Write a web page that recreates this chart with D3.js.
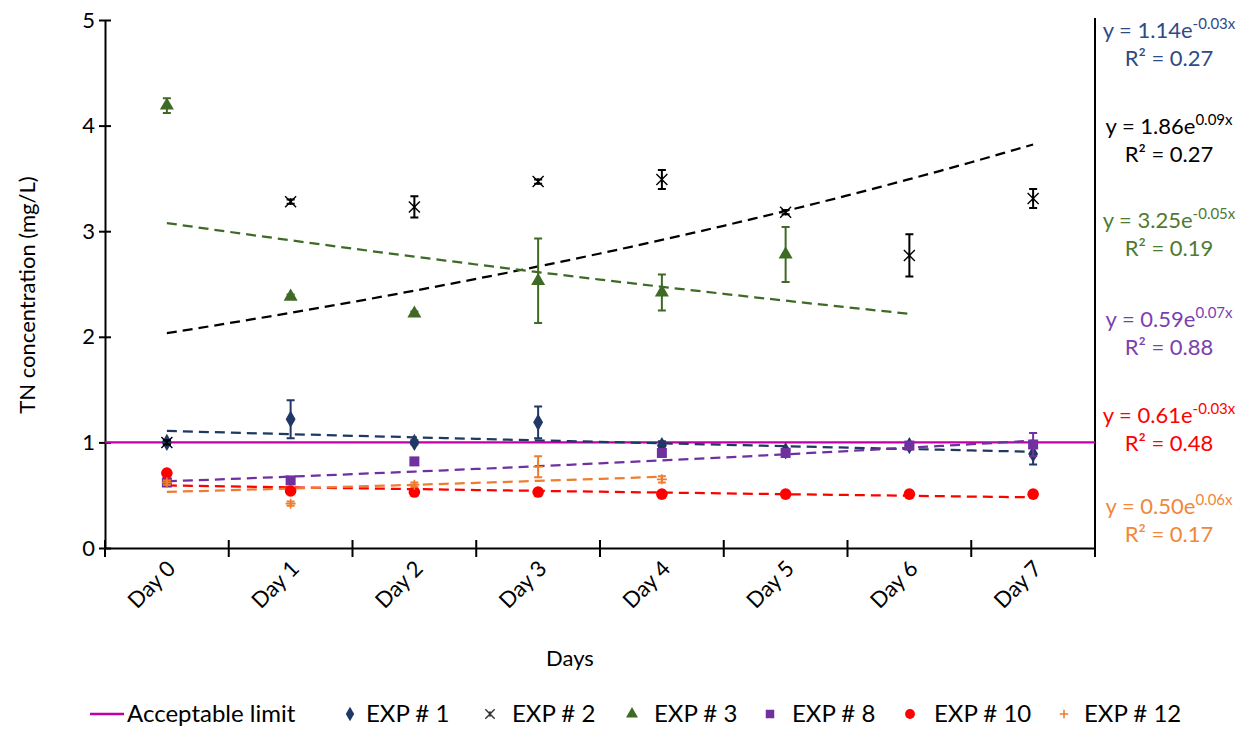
<!DOCTYPE html>
<html><head><meta charset="utf-8">
<script src="https://cdn.jsdelivr.net/npm/d3@7"></script>
<style>
body{margin:0;background:#fff}
svg{font-family:Lato,"Open Sans",sans-serif}
</style>
</head><body>
<svg id="chart" width="1246" height="730"></svg>
<script>
// ---------- data ----------
const days = ["Day 0","Day 1","Day 2","Day 3","Day 4","Day 5","Day 6","Day 7"];
const yTicks = [0,1,2,3,4,5];
const limitValue = 1;
const seriesNames = ["EXP # 1","EXP # 2","EXP # 3","EXP # 8","EXP # 10","EXP # 12"];
const exp1  = [1.00,1.22,1.00,1.19,0.97,0.92,0.97,0.89];
const exp1E = [0.02,0.18,0.02,0.15,0.04,0.02,0.02,0.10];
const exp2  = [1.00,3.28,3.23,3.47,3.49,3.18,2.77,3.31];
const exp2E = [0.02,0.02,0.10,0.02,0.09,0.02,0.20,0.09];
const exp3  = [4.19,2.38,2.22,2.53,2.42,2.78,null,null];
const exp3E = [0.07,0.02,0.02,0.40,0.17,0.26,null,null];
const exp8  = [0.62,0.64,0.82,null,0.90,0.90,0.97,0.98];
const exp8E = [0.02,0.03,0.02,null,0.03,0.02,0.02,0.11];
const exp10 = [0.71,0.54,0.53,0.53,0.51,0.51,0.51,0.51];
const exp10E= [0.02,0.02,0.02,0.02,0.02,0.02,0.02,0.02];
const exp12 = [0.62,0.42,0.60,0.77,0.65,null,null,null];
const exp12E= [0.02,0.02,0.02,0.10,0.03,null,null,null];
// exponential trendlines y = a*e^(b*x), x = 1..n (Excel index)
const trendA = [1.14,1.86,3.25,0.59,0.61,0.50];
const trendB = [-0.028,0.09,-0.0546,0.068,-0.03,0.06];
const trendLastDay = [7,7,6,7,7,4];
// equation labels
const eqCoef = ["1.14","1.86","3.25","0.59","0.61","0.50"];
const eqExp  = ["-0.03x","0.09x","-0.05x","0.07x","-0.03x","0.06x"];
const eqR2   = ["0.27","0.27","0.19","0.88","0.48","0.17"];

// ---------- setup ----------
const values = [exp1,exp2,exp3,exp8,exp10,exp12];
const errors = [exp1E,exp2E,exp3E,exp8E,exp10E,exp12E];
const colors = ["#1F3864","#000000","#3F6A25","#7030A0","#FF0000","#ED7D31"];
const eqColors = ["#2F4A86","#000000","#4E7A32","#7B3FB0","#FF0000","#F0873A"];
const limitColor = "#C000A6";
const markers = ["diamond","star","triangle","square","circle","plus"];

const svg = d3.select("#chart");
const L = 105, R = 1095, T = 20, B = 548;
const x = d3.scaleBand().domain(days).range([L,R]).paddingInner(0).paddingOuter(0);
const y = d3.scaleLinear().domain([0,5]).range([B,T]);
const cx = d => x(d) + x.bandwidth()/2;

// axes
const yAxis = svg.append("g").attr("transform",`translate(${L},0)`)
  .call(d3.axisLeft(y).tickValues(yTicks).tickFormat(d3.format("d")).tickSizeInner(6).tickSizeOuter(0).tickPadding(4));
yAxis.selectAll(".tick line").attr("x1",6).attr("x2",-6).attr("stroke","#000").attr("stroke-width",2);
yAxis.select(".domain").attr("stroke","#000").attr("stroke-width",2);
yAxis.selectAll("text").attr("font-size",22).attr("fill","#000").attr("font-family","Lato");

const xAxis = svg.append("g").attr("transform",`translate(0,${B})`)
  .call(d3.axisBottom(x).tickSize(0).tickFormat(""));
xAxis.select(".domain").attr("stroke","#000").attr("stroke-width",2);
const bounds = d3.range(days.length+1).map(i => L + i*x.bandwidth());
svg.append("g").selectAll("line").data(bounds).join("line")
  .attr("x1",d=>d).attr("x2",d=>d).attr("y1",B-8).attr("y2",B+9)
  .attr("stroke","#000").attr("stroke-width",2);
svg.append("g").selectAll("text").data(days).join("text")
  .attr("transform",d=>`translate(${cx(d)+10},${B+22}) rotate(-45)`)
  .attr("text-anchor","end").attr("font-size",22).attr("fill","#000").text(d=>d);
// right border
svg.append("line").attr("x1",R).attr("x2",R).attr("y1",T-2).attr("y2",B)
  .attr("stroke","#000").attr("stroke-width",2);

// titles
svg.append("text").attr("x",570).attr("y",666).attr("text-anchor","middle")
  .attr("font-size",22).text("Days");
svg.append("text").attr("transform","translate(35,295) rotate(-90)").attr("text-anchor","middle")
  .attr("font-size",22).text("TN concentration (mg/L)");

// limit line
svg.append("line").attr("x1",L).attr("x2",R).attr("y1",y(limitValue)).attr("y2",y(limitValue))
  .attr("stroke",limitColor).attr("stroke-width",2.25);

// trendlines
const tl = d3.line().x(d=>d[0]).y(d=>y(d[1]));
values.forEach((v,si)=>{
  const pts = d3.range(0, trendLastDay[si]+0.001, 0.25).map(t=>{
    const xp = cx(days[0]) + t*x.bandwidth();
    return [xp, trendA[si]*Math.exp(trendB[si]*(t+1))];
  });
  svg.append("path").datum(pts).attr("d",tl).attr("fill","none")
    .attr("stroke",colors[si]).attr("stroke-width",2.25).attr("stroke-dasharray","10,6");
});

// marker drawer
function drawMarker(g, type, color, px, py, scale=1){
  const s = scale;
  if(type==="diamond"){
    g.append("path").attr("d",d3.symbol(d3.symbolDiamond,85*s*s)()).attr("transform",`translate(${px},${py})`).attr("fill",color);
  } else if(type==="triangle"){
    g.append("path").attr("d",d3.symbol(d3.symbolTriangle,85*s*s)()).attr("transform",`translate(${px},${py})`).attr("fill",color);
  } else if(type==="square"){
    g.append("rect").attr("x",px-5*s).attr("y",py-5*s).attr("width",10*s).attr("height",10*s).attr("fill",color);
  } else if(type==="circle"){
    g.append("circle").attr("cx",px).attr("cy",py).attr("r",5.8*s).attr("fill",color);
  } else if(type==="plus"){
    const r=5*s;
    g.append("path").attr("d",`M${px-r},${py}H${px+r}M${px},${py-r}V${py+r}`).attr("stroke",color).attr("stroke-width",1.6);
  } else if(type==="star"){
    const r=5.5*s;
    g.append("path").attr("d",`M${px-r},${py-r}L${px+r},${py+r}M${px-r},${py+r}L${px+r},${py-r}M${px},${py-r*0.6}V${py+r*0.6}`)
      .attr("stroke",color).attr("stroke-width",1.4);
  }
}

// error bars + markers
values.forEach((v,si)=>{
  const g = svg.append("g");
  v.forEach((val,i)=>{
    if(val==null) return;
    const e = errors[si][i];
    const px = cx(days[i]);
    if(e){
      const y1 = y(val+e), y2 = y(val-e);
      g.append("path").attr("d",`M${px},${y1}V${y2}M${px-4},${y1}H${px+4}M${px-4},${y2}H${px+4}`)
        .attr("stroke",colors[si]).attr("stroke-width",2).attr("fill","none");
    }
    drawMarker(g, markers[si], colors[si], px, y(val));
  });
});

// equation labels
const eqTop = [38,134,228,327,423,514];
eqCoef.forEach((c,i)=>{
  const t = svg.append("text").attr("x",1169).attr("y",eqTop[i]).attr("text-anchor","middle")
    .attr("font-size",22).attr("fill",eqColors[i]);
  t.append("tspan").text(`y = ${c}e`);
  t.append("tspan").attr("font-size",15).attr("dy",-9).text(eqExp[i]);
  svg.append("text").attr("x",1169).attr("y",eqTop[i]+28).attr("text-anchor","middle")
    .attr("font-size",22).attr("fill",eqColors[i]).text(`R² = ${eqR2[i]}`);
});

// legend
const lg = svg.append("g");
const ly = 714;
lg.append("line").attr("x1",90).attr("x2",124).attr("y1",ly).attr("y2",ly).attr("stroke",limitColor).attr("stroke-width",2.5);
lg.append("text").attr("x",127).attr("y",ly+8).attr("font-size",24).text("Acceptable limit");
const legSym = [350,490,632,770,910,1064];
const legTxt = [366,512,654,792,934,1084];
seriesNames.forEach((n,i)=>{
  drawMarker(lg, markers[i], i===1?"#333":colors[i], legSym[i], ly, 0.85);
  lg.append("text").attr("x",legTxt[i]).attr("y",ly+8).attr("font-size",24).text(n);
});
</script>
</body></html>
